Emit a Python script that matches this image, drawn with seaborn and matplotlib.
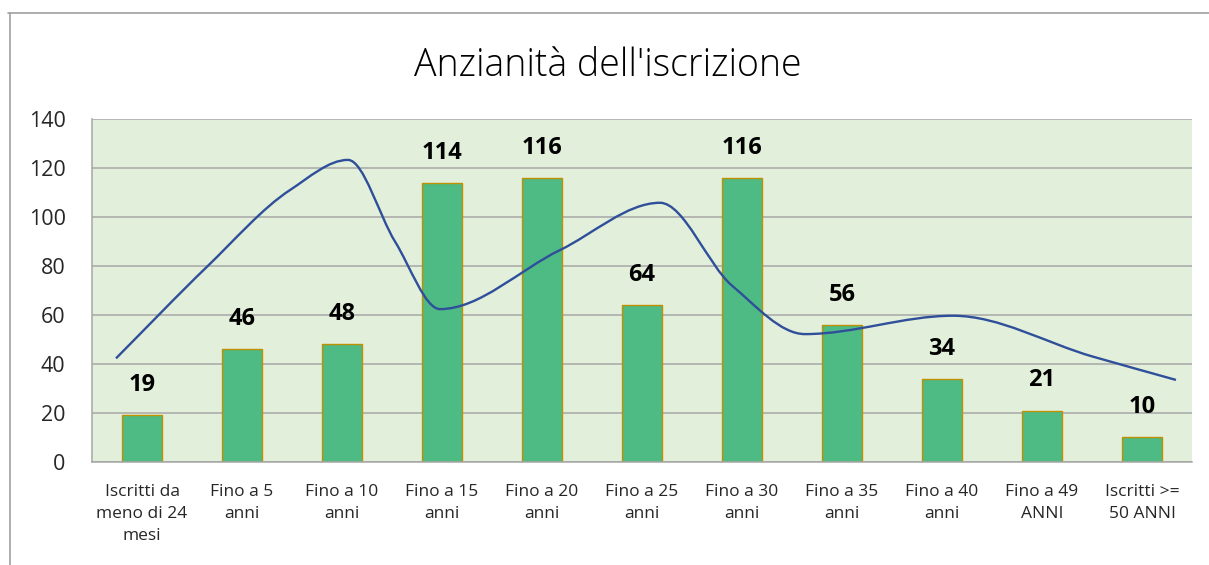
import numpy as np
import pandas as pd
import matplotlib
matplotlib.use("Agg")
import matplotlib.pyplot as plt
from matplotlib.path import Path
from matplotlib.patches import PathPatch
from matplotlib.lines import Line2D
import seaborn as sns

# dati del grafico
categorie = [
    "Iscritti da\nmeno di 24\nmesi", "Fino a 5\nanni", "Fino a 10\nanni",
    "Fino a 15\nanni", "Fino a 20\nanni", "Fino a 25\nanni", "Fino a 30\nanni",
    "Fino a 35\nanni", "Fino a 40\nanni", "Fino a 49\nANNI", "Iscritti >=\n50 ANNI",
]
iscritti = [19, 46, 48, 114, 116, 64, 116, 56, 34, 21, 10]

# linea smussata: punti (x in unita' di categoria)
curva_x = [-0.26, 0.65, 1.48, 2.06, 2.53, 2.98, 4.18, 5.18, 5.90, 6.63, 8.11, 9.51, 10.34]
curva_y = [42.3, 79.7, 111.0, 123.3, 90.0, 62.4, 86.5, 105.8, 72.0, 52.2, 59.7, 43.0, 33.5]

df = pd.DataFrame({"categoria": categorie, "iscritti": iscritti})

sns.set_style("white")
plt.rcParams["font.family"] = ["Open Sans", "DejaVu Sans"]

fig = plt.figure(figsize=(12.09, 5.65), dpi=100)
ax = fig.add_axes([0.0761, 0.1823, 0.9098, 0.6071])
ax.set_facecolor("#E2EFDA")

sns.barplot(data=df, x="categoria", y="iscritti", color="#4EBB84", width=0.4,
            edgecolor="#BF9000", linewidth=1.0, saturation=1, ax=ax, zorder=2)

for c in ax.containers:
    ax.bar_label(c, padding=13, fontsize=17, fontweight="bold", color="black")

# curva smussata: Hermite monotona (tangenti Fritsch-Carlson) -> Bezier
x = np.array(curva_x)
y = np.array(curva_y)
h = np.diff(x)
d = np.diff(y) / h
m = np.zeros_like(y)
for i in range(1, len(y) - 1):
    if d[i - 1] * d[i] > 0:
        w1 = 2 * h[i] + h[i - 1]
        w2 = h[i] + 2 * h[i - 1]
        m[i] = (w1 + w2) / (w1 / d[i - 1] + w2 / d[i])
m[0] = d[0]
m[-1] = d[-1]
verts = [(x[0], y[0])]
codes = [Path.MOVETO]
for i in range(len(x) - 1):
    verts += [(x[i] + h[i] / 3, y[i] + m[i] * h[i] / 3),
              (x[i + 1] - h[i] / 3, y[i + 1] - m[i + 1] * h[i] / 3),
              (x[i + 1], y[i + 1])]
    codes += [Path.CURVE4] * 3
ax.add_patch(PathPatch(Path(verts, codes), facecolor="none", edgecolor="#2F4F9A",
                       linewidth=1.7, zorder=4))

ax.set_xlim(-0.5, 10.5)
ax.set_ylim(0, 140)
ax.set_yticks(range(0, 141, 20))
ax.yaxis.grid(True, color="#A6A6A6", linewidth=1.1, zorder=0)
ax.set_axisbelow(True)
ax.tick_params(axis="y", length=0, pad=19, labelsize=15.5)
ax.tick_params(axis="x", length=0, pad=16, labelsize=12.5)
for lab in ax.get_xticklabels():
    lab.set_linespacing(1.5)
ax.set_xlabel("")
ax.set_ylabel("")
for s in ["top", "right"]:
    ax.spines[s].set_visible(False)
for s in ["left", "bottom"]:
    ax.spines[s].set_color("#A6A6A6")
    ax.spines[s].set_linewidth(1.1)

fig.text(0.503, 1 - 66 / 565, "Anzianità dell'iscrizione", ha="center", va="center",
         fontsize=27, color="black", fontweight="light")

# bordo dell'area del grafico
fig.add_artist(Line2D([8 / 1209, 1], [1 - 13 / 565] * 2, color="#A0A0A0", linewidth=1.2))
fig.add_artist(Line2D([9.5 / 1209] * 2, [0, 1 - 13 / 565], color="#A0A0A0", linewidth=1.2))

fig.savefig("out.png", dpi=100)
